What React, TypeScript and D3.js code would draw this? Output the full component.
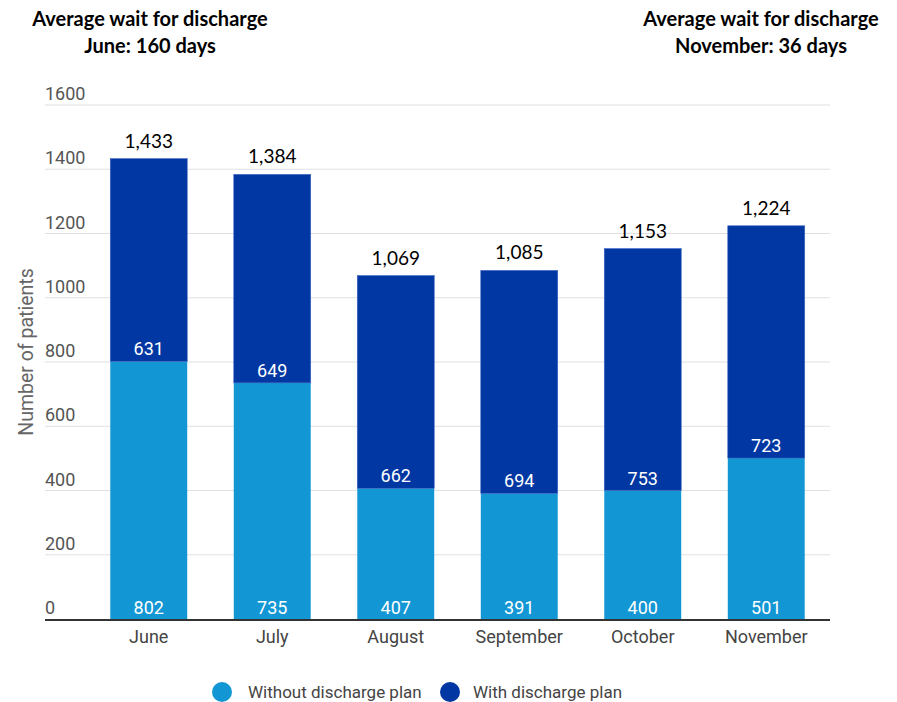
import React from "react";
import * as d3 from "d3";

const months = ["June", "July", "August", "September", "October", "November"];
const withoutPlan = [802, 735, 407, 391, 400, 501];
const withPlan = [631, 649, 662, 694, 753, 723];
const totals = [1433, 1384, 1069, 1085, 1153, 1224];
const yTicks = [0, 200, 400, 600, 800, 1000, 1200, 1400, 1600];
const seriesNames = ["Without discharge plan", "With discharge plan"];
const colors = ["#1396d4", "#0037a2"];

export default function App() {
  const W = 897, H = 702;
  const x = d3.scaleBand<string>().domain(months).range([87, 828]).paddingInner(0.377).paddingOuter(0.1885);
  const y = d3.scaleLinear().domain([0, 1600]).range([619, 105]);
  const fmt = d3.format(",");
  const sans = "Roboto, 'Noto Sans', sans-serif";
  const cal = "Lato, 'Open Sans', sans-serif";
  return (
    <svg width={W} height={H} style={{ position: "absolute", left: 0, top: 0 }}>
      <rect width={W} height={H} fill="#fff" />
      <g fontFamily={cal} fontWeight={700} fontSize={20} fill="#000" textAnchor="middle">
        <text x={150} y={26}>Average wait for discharge</text>
        <text x={150} y={53}>June: 160 days</text>
        <text x={761} y={26}>Average wait for discharge</text>
        <text x={761} y={53}>November: 36 days</text>
      </g>
      {yTicks.map((t) => (
        <g key={t}>
          {t > 0 && <line x1={45} x2={830} y1={y(t)} y2={y(t)} stroke="#e0e0e0" strokeWidth={1.2} />}
          <text x={45} y={y(t) - 5} fontFamily={sans} fontSize={18} fill="#555">{t}</text>
        </g>
      ))}
      <text transform={`translate(33,352) rotate(-90)`} textAnchor="middle" fontFamily={sans} fontSize={19.5} fill="#666">Number of patients</text>
      {months.map((m, i) => {
        const bx = x(m)!;
        const bw = x.bandwidth();
        const cx = bx + bw / 2;
        const y0 = y(0), y1 = y(withoutPlan[i]), y2 = y(withoutPlan[i] + withPlan[i]);
        return (
          <g key={m}>
            <rect x={bx} y={y1} width={bw} height={y0 - y1} fill={colors[0]} />
            <rect x={bx} y={y2} width={bw} height={y1 - y2} fill={colors[1]} stroke="#3b63c0" strokeWidth={0.6} />
            <text x={cx} y={y1 - 6} textAnchor="middle" fontFamily={sans} fontSize={18} fill="#fff">{withPlan[i]}</text>
            <text x={cx} y={y0 - 5} textAnchor="middle" fontFamily={sans} fontSize={18} fill="#fff">{withoutPlan[i]}</text>
            <text x={cx} y={y(totals[i]) - 11} textAnchor="middle" fontFamily={cal} fontSize={19} fill="#000">{fmt(totals[i])}</text>
            <text x={cx} y={643} textAnchor="middle" fontFamily={sans} fontSize={18} fill="#444">{m}</text>
          </g>
        );
      })}
      <line x1={45} x2={830} y1={620} y2={620} stroke="#333" strokeWidth={2} />
      <g fontFamily={sans} fontSize={17} fill="#444">
        <circle cx={222} cy={692} r={10} fill={colors[0]} />
        <text x={248} y={698}>{seriesNames[0]}</text>
        <circle cx={450} cy={692} r={10} fill={colors[1]} />
        <text x={473} y={698}>{seriesNames[1]}</text>
      </g>
    </svg>
  );
}
